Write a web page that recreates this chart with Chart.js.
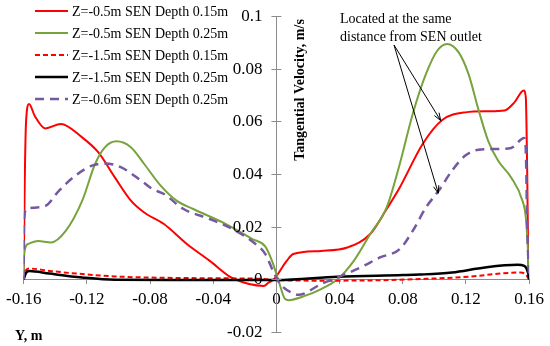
<!DOCTYPE html>
<html lang="en">
<head>
  <meta charset="UTF-8">
  <title>Tangential Velocity</title>
  <script src="https://cdn.jsdelivr.net/npm/chart.js"></script>
  <style>
    html, body { margin: 0; padding: 0; background: #fff; }
    #wrap { position: relative; width: 550px; height: 346px; }
  </style>
</head>
<body>
  <div id="wrap"><canvas id="velChart"></canvas></div>

  <script>
    // series names, in legend order
    const seriesLabels = [
      'Z=-0.5m SEN Depth 0.15m',
      'Z=-0.5m SEN Depth 0.25m',
      'Z=-1.5m SEN Depth 0.15m',
      'Z=-1.5m SEN Depth 0.25m',
      'Z=-0.6m SEN Depth 0.25m'
    ];

    // Z=-0.5m, depth 0.15m (red solid)
    const redX = [-0.16, -0.1595, -0.1585, -0.1566, -0.153, -0.1463, -0.1365, -0.123, -0.1127, -0.1023, -0.092, -0.0837, -0.0712, -0.0567, -0.0422, -0.0287, -0.0173, -0.008, -0.0049, -0.0016, 0.0065, 0.0107, 0.0283, 0.0449, 0.0594, 0.0698, 0.0781, 0.0926, 0.105, 0.1196, 0.134, 0.1444, 0.1507, 0.1565, 0.1579, 0.1588, 0.1595, 0.16];
    const redY = [0, 0.03, 0.06, 0.0666, 0.062, 0.0573, 0.059, 0.0539, 0.0482, 0.0387, 0.0298, 0.0254, 0.021, 0.0134, 0.007, 0.0007, -0.0018, -0.0025, -0.0012, 0, 0.007, 0.0096, 0.0108, 0.0121, 0.0172, 0.0267, 0.0349, 0.0514, 0.0605, 0.0634, 0.0638, 0.0641, 0.0672, 0.0717, 0.0691, 0.04, 0.005, 0];

    // Z=-0.5m, depth 0.25m (green solid)
    const greenX = [-0.16, -0.1598, -0.1573, -0.151, -0.1428, -0.1334, -0.123, -0.1148, -0.1086, -0.1013, -0.092, -0.0837, -0.0733, -0.063, -0.0526, -0.0319, -0.0152, -0.007, -0.0028, 0.0014, 0.0055, 0.0076, 0.0179, 0.0283, 0.0387, 0.049, 0.0594, 0.0698, 0.0781, 0.0863, 0.0947, 0.1019, 0.1081, 0.1154, 0.1216, 0.1278, 0.134, 0.1403, 0.1486, 0.1558, 0.1579, 0.1595, 0.16];
    const greenY = [0, 0.009, 0.0134, 0.0146, 0.014, 0.0184, 0.0298, 0.0438, 0.0501, 0.0524, 0.0501, 0.0438, 0.0356, 0.0298, 0.0267, 0.021, 0.0153, 0.0124, 0.007, -0.0006, -0.0075, -0.0079, -0.0063, -0.0037, 0, 0.007, 0.0172, 0.0273, 0.0438, 0.0628, 0.078, 0.0869, 0.0894, 0.0862, 0.078, 0.0647, 0.0527, 0.0451, 0.0387, 0.0298, 0.0235, 0.008, 0];

    // Z=-1.5m, depth 0.15m (red dashed)
    const redDashX = [-0.16, -0.1585, -0.1565, -0.1438, -0.123, -0.1023, -0.0816, -0.04, -0.01, 0, 0.03, 0.06, 0.0905, 0.1216, 0.1422, 0.1546, 0.158, 0.16];
    const redDashY = [0, 0.0035, 0.0041, 0.0032, 0.002, 0.0011, 0.0007, 0.0004, 0.0002, -0.0003, -0.0005, -0.0004, 0.0001, 0.001, 0.0022, 0.0026, 0.0018, 0];

    // Z=-1.5m, depth 0.25m (black solid)
    const blackX = [-0.16, -0.1585, -0.1563, -0.1438, -0.123, -0.1023, -0.06, 0, 0.0387, 0.0801, 0.0905, 0.1112, 0.1319, 0.1527, 0.1569, 0.1595, 0.16];
    const blackY = [0, 0.0025, 0.0032, 0.0022, 0.0007, -0.0002, -0.0003, -0.0003, 0.001, 0.0016, 0.0018, 0.0026, 0.0045, 0.0055, 0.0051, 0.002, 0];

    // Z=-0.6m, depth 0.25m (purple dashed)
    const purpleX = [-0.16, -0.1598, -0.1583, -0.1521, -0.1459, -0.1376, -0.1272, -0.1168, -0.1086, -0.0982, -0.0857, -0.0785, -0.0712, -0.0588, -0.0422, -0.0256, -0.0132, -0.007, -0.0017, 0.0024, 0.0117, 0.0138, 0.0283, 0.0387, 0.0532, 0.0656, 0.0781, 0.0863, 0.0947, 0.1028, 0.1112, 0.1196, 0.1279, 0.1382, 0.1486, 0.1569, 0.1579, 0.1588, 0.16];
    const purpleY = [0, 0.022, 0.0267, 0.0273, 0.028, 0.0337, 0.0394, 0.0432, 0.044, 0.0425, 0.0375, 0.0343, 0.0324, 0.0267, 0.0229, 0.0184, 0.0134, 0.0096, 0.0026, -0.0018, -0.0056, -0.0059, -0.0018, 0.0007, 0.0045, 0.0083, 0.0115, 0.0184, 0.0273, 0.0337, 0.0413, 0.047, 0.0492, 0.0495, 0.0499, 0.0537, 0.0489, 0.02, 0];

    // the two points the arrows point at (on the red and purple curves)
    const arrowTargets = [[0.104, 0.0603], [0.1025, 0.0327]];

    const serif = "'Liberation Serif', 'Times New Roman', serif";
    const axisGrey = '#8c8c8c';

    function pts(xs, ys) {
      return xs.map((x, i) => ({ x: x, y: ys[i] }));
    }

    const styles = [
      { color: '#ff0000', width: 2, dash: [] },
      { color: '#77a33c', width: 2, dash: [] },
      { color: '#ff0000', width: 2, dash: [5, 3] },
      { color: '#000000', width: 2.5, dash: [] },
      { color: '#7558a0', width: 2.5, dash: [9, 6] }
    ];
    const xs = [redX, greenX, redDashX, blackX, purpleX];
    const ys = [redY, greenY, redDashY, blackY, purpleY];

    const datasets = seriesLabels.map((lab, i) => ({
      label: lab,
      data: pts(xs[i], ys[i]),
      borderColor: styles[i].color,
      borderWidth: styles[i].width,
      borderDash: styles[i].dash,
      pointRadius: 0,
      fill: false,
      cubicInterpolationMode: 'monotone',
      order: 5 - i
    }));

    function fmt(v) {
      return String(+v.toFixed(2));
    }

    function arrow(ctx, x1, y1, x2, y2) {
      const a = Math.atan2(y2 - y1, x2 - x1);
      const h = 8;
      ctx.beginPath();
      ctx.moveTo(x1, y1);
      ctx.lineTo(x2, y2);
      ctx.moveTo(x2 - h * Math.cos(a - 0.35), y2 - h * Math.sin(a - 0.35));
      ctx.lineTo(x2, y2);
      ctx.lineTo(x2 - h * Math.cos(a + 0.35), y2 - h * Math.sin(a + 0.35));
      ctx.stroke();
    }

    // legend, y tick labels, axis titles and the note with arrows
    const extras = {
      id: 'extras',
      afterDraw(chart) {
        const ctx = chart.ctx;
        const sx = chart.scales.x, sy = chart.scales.y;
        const axisX = sx.getPixelForValue(0);
        ctx.save();

        // y ticks sit across the middle axis, labels to its left
        ctx.strokeStyle = axisGrey;
        ctx.lineWidth = 1;
        ctx.font = '17px ' + serif;
        ctx.fillStyle = '#000';
        ctx.textAlign = 'right';
        ctx.textBaseline = 'middle';
        sy.ticks.forEach(t => {
          const y = Math.round(sy.getPixelForValue(t.value)) + 0.5;
          ctx.beginPath();
          ctx.moveTo(axisX - 5, y);
          ctx.lineTo(axisX + 5, y);
          ctx.stroke();
          ctx.fillText(fmt(t.value), axisX - 14, y);
        });

        // legend in the top left corner
        ctx.font = '14px ' + serif;
        ctx.textAlign = 'left';
        seriesLabels.forEach((lab, i) => {
          const y = 11 + i * 22;
          ctx.strokeStyle = styles[i].color;
          ctx.lineWidth = styles[i].width;
          ctx.setLineDash(styles[i].dash);
          ctx.beginPath();
          ctx.moveTo(35, y);
          ctx.lineTo(68, y);
          ctx.stroke();
          ctx.fillText(lab, 72, y + 1);
        });
        ctx.setLineDash([]);

        // y axis title, just right of the axis
        ctx.save();
        ctx.translate(axisX + 24, 90);
        ctx.rotate(-Math.PI / 2);
        ctx.font = 'bold 14px ' + serif;
        ctx.textAlign = 'center';
        ctx.fillText('Tangential Velocity, m/s', 0, 0);
        ctx.restore();

        // x axis title, bottom left
        ctx.font = 'bold 14px ' + serif;
        ctx.textAlign = 'left';
        ctx.fillText('Y, m', 15, 336);

        // note with two arrows
        ctx.font = '14px ' + serif;
        ctx.fillText('Located at the same', 340, 19);
        ctx.fillText('distance from SEN outlet', 340, 37);
        ctx.strokeStyle = '#000';
        ctx.lineWidth = 1;
        arrowTargets.forEach(t => {
          arrow(ctx, 394, 45, sx.getPixelForValue(t[0]), sy.getPixelForValue(t[1]));
        });
        ctx.restore();
      }
    };

    new Chart(document.getElementById('velChart'), {
      type: 'line',
      data: { datasets: datasets },
      options: {
        animation: false,
        responsive: true,
        maintainAspectRatio: false,
        layout: { padding: { left: 17, right: 18, top: 16, bottom: 14 } },
        plugins: {
          legend: { display: false },
          tooltip: { enabled: false }
        },
        scales: {
          x: {
            type: 'linear',
            position: { y: 0 },
            min: -0.16,
            max: 0.16,
            grid: { drawOnChartArea: false, color: axisGrey, tickLength: 4 },
            border: { color: axisGrey },
            ticks: {
              stepSize: 0.04,
              padding: 6,
              color: '#000',
              maxRotation: 0,
              autoSkip: false,
              font: { family: serif, size: 17 },
              callback: fmt
            }
          },
          y: {
            type: 'linear',
            position: { x: 0 },
            min: -0.02,
            max: 0.1,
            grid: { drawOnChartArea: false, drawTicks: false },
            border: { color: axisGrey },
            ticks: { stepSize: 0.02, display: false }
          }
        }
      },
      plugins: [extras]
    });
  </script>
</body>
</html>
